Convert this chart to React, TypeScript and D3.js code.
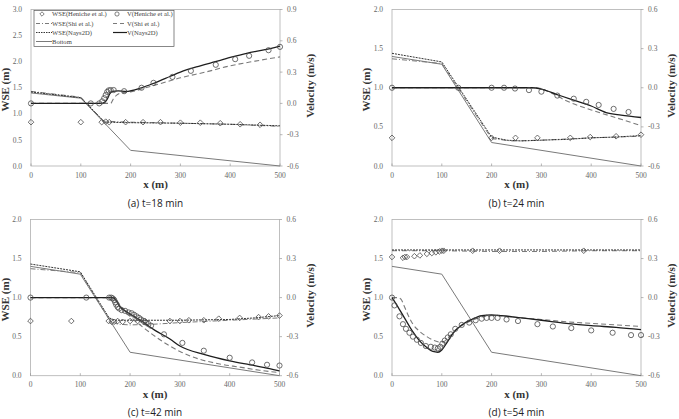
import React from 'react';
import * as d3 from 'd3';

type Pt = [number, number];

// channel bed elevation (m)
const bedProfile: Pt[] = [[0, 1.4], [100, 1.3], [200, 0.3], [500, 0]];

const xTicks = [0, 100, 200, 300, 400, 500];
const wseTicksA = [0, 0.5, 1, 1.5, 2, 2.5, 3];
const wseTicks = [0, 0.5, 1, 1.5, 2];
const velTicksA = [-0.6, -0.3, 0, 0.3, 0.6, 0.9];
const velTicks = [-0.6, -0.3, 0, 0.3, 0.6];

// (a) t = 18 min
const wseHenicheA: Pt[] = [[0, 0.84], [100, 0.84], [142, 0.84], [150, 0.85], [157, 0.84], [190, 0.84], [225, 0.84], [260, 0.84], [300, 0.83], [340, 0.83], [380, 0.82], [420, 0.8], [460, 0.79]];
const velHenicheA: Pt[] = [[0, 0], [120, 0], [137, 0], [143, 0.02], [147, 0.05], [150, 0.08], [153, 0.11], [156, 0.125], [160, 0.128], [166, 0.128], [187, 0.117], [222, 0.15], [246, 0.197], [284, 0.254], [321, 0.312], [371, 0.37], [410, 0.424], [438, 0.456], [477, 0.51], [500, 0.542]];
const wseShiA: Pt[] = [[0, 1.43], [100, 1.32], [146, 0.86], [200, 0.84], [300, 0.82], [400, 0.8], [500, 0.76]];
const velShiA: Pt[] = [[0, 0], [160, 0], [165, 0.04], [172, 0.08], [180, 0.1], [200, 0.11], [230, 0.15], [260, 0.19], [300, 0.245], [350, 0.3], [400, 0.36], [450, 0.405], [500, 0.446]];
const wseNaysA: Pt[] = [[0, 1.42], [100, 1.31], [148, 0.84], [200, 0.83], [300, 0.82], [400, 0.8], [500, 0.77]];
const velNaysA: Pt[] = [[0, 0], [140, 0], [148, 0.01], [153, 0.04], [158, 0.09], [163, 0.115], [175, 0.12], [190, 0.115], [222, 0.15], [250, 0.2], [280, 0.26], [300, 0.3], [340, 0.36], [370, 0.4], [400, 0.44], [433, 0.48], [470, 0.515], [500, 0.55]];

// (b) t = 24 min
const wseHenicheB: Pt[] = [[0, 0.36], [200, 0.36], [248, 0.36], [292, 0.36], [358, 0.36], [398, 0.37], [450, 0.38], [500, 0.4]];
const velHenicheB: Pt[] = [[0, 0], [133, 0], [200, 0], [225, 0], [247, -0.006], [275, -0.018], [300, -0.03], [332, -0.06], [365, -0.084], [390, -0.108], [415, -0.132], [445, -0.162], [475, -0.186]];
const wseShiB: Pt[] = [[0, 1.37], [100, 1.31], [200, 0.35], [240, 0.32], [300, 0.33], [400, 0.36], [500, 0.38]];
const velShiB: Pt[] = [[0, 0], [290, 0], [320, -0.04], [350, -0.1], [400, -0.17], [450, -0.23], [500, -0.29]];
const wseNaysB: Pt[] = [[0, 1.44], [100, 1.33], [200, 0.37], [230, 0.33], [260, 0.32], [300, 0.33], [350, 0.34], [400, 0.36], [450, 0.37], [500, 0.39]];
const velNaysB: Pt[] = [[0, 0], [280, 0], [300, -0.01], [330, -0.05], [360, -0.09], [400, -0.14], [430, -0.19], [460, -0.21], [500, -0.228]];

// (c) t = 42 min
const wseHenicheC: Pt[] = [[0, 0.7], [82, 0.7], [157, 0.7], [163, 0.69], [168, 0.69], [175, 0.7], [185, 0.69], [200, 0.7], [215, 0.7], [230, 0.7], [280, 0.7], [300, 0.7], [318, 0.71], [348, 0.71], [378, 0.73], [420, 0.74], [458, 0.75], [478, 0.76], [500, 0.77]];
const velHenicheC: Pt[] = [[0, 0], [112, 0], [158, 0], [162, 0], [165, -0.006], [168, -0.018], [170, -0.036], [172, -0.054], [175, -0.072], [178, -0.084], [183, -0.096], [190, -0.102], [197, -0.114], [203, -0.12], [208, -0.132], [213, -0.144], [218, -0.156], [222, -0.168], [227, -0.18], [232, -0.192], [237, -0.204], [242, -0.216], [268, -0.282], [305, -0.348], [348, -0.408], [400, -0.462], [445, -0.498], [475, -0.516], [500, -0.522]];
const wseShiC: Pt[] = [[0, 1.37], [100, 1.32], [160, 0.7], [175, 0.66], [200, 0.65], [250, 0.66], [300, 0.68], [400, 0.71], [500, 0.74]];
const velShiC: Pt[] = [[0, 0], [170, 0], [175, -0.03], [185, -0.084], [200, -0.144], [230, -0.24], [260, -0.324], [300, -0.414], [340, -0.474], [380, -0.51], [420, -0.534], [460, -0.558], [500, -0.576]];
const wseNaysC: Pt[] = [[0, 1.43], [100, 1.33], [158, 0.74], [170, 0.71], [200, 0.71], [300, 0.71], [400, 0.72], [450, 0.74], [500, 0.77]];
const velNaysC: Pt[] = [[0, 0], [165, 0], [170, -0.012], [180, -0.072], [190, -0.102], [200, -0.126], [225, -0.186], [250, -0.252], [280, -0.318], [300, -0.372], [350, -0.438], [400, -0.486], [450, -0.522], [480, -0.546], [500, -0.564]];

// (d) t = 54 min
const wseHenicheD: Pt[] = [[0, 1.52], [22, 1.51], [26, 1.52], [30, 1.52], [45, 1.53], [56, 1.54], [70, 1.56], [80, 1.57], [88, 1.58], [95, 1.59], [100, 1.6], [104, 1.6], [162, 1.6], [216, 1.6], [385, 1.6]];
const velHenicheD: Pt[] = [[0, 0], [5, -0.06], [15, -0.144], [22, -0.204], [28, -0.24], [35, -0.27], [42, -0.3], [50, -0.324], [58, -0.348], [68, -0.372], [78, -0.378], [86, -0.384], [92, -0.39], [97, -0.378], [101, -0.354], [106, -0.33], [112, -0.306], [118, -0.282], [127, -0.24], [140, -0.21], [155, -0.192], [168, -0.174], [180, -0.162], [190, -0.156], [200, -0.156], [212, -0.156], [230, -0.168], [253, -0.18], [292, -0.204], [323, -0.222], [360, -0.234], [400, -0.252], [443, -0.27], [480, -0.288], [500, -0.288]];
const wseShiD: Pt[] = [[0, 1.6], [100, 1.6], [200, 1.59], [300, 1.59], [400, 1.6], [500, 1.6]];
const velShiD: Pt[] = [[0, 0], [12, 0], [18, -0.012], [24, -0.06], [32, -0.132], [42, -0.204], [55, -0.258], [70, -0.3], [85, -0.33], [97, -0.342], [105, -0.336], [115, -0.3], [128, -0.246], [145, -0.204], [165, -0.168], [185, -0.144], [205, -0.138], [230, -0.144], [260, -0.156], [300, -0.168], [350, -0.186], [400, -0.198], [450, -0.21], [500, -0.222]];
const wseNaysD: Pt[] = [[0, 1.61], [100, 1.61], [200, 1.61], [300, 1.61], [400, 1.61], [500, 1.61]];
const velNaysD: Pt[] = [[0, 0], [10, -0.06], [25, -0.156], [40, -0.252], [55, -0.33], [70, -0.384], [82, -0.414], [92, -0.42], [100, -0.402], [110, -0.348], [122, -0.276], [140, -0.21], [160, -0.168], [180, -0.138], [200, -0.132], [220, -0.138], [260, -0.156], [300, -0.174], [350, -0.198], [400, -0.216], [450, -0.228], [500, -0.246]];

const GRAY = '#7a7a7a';
const BLACK = '#1e1e1e';
const MARK = '#4a4a4a';
const SERIF = '"Liberation Serif", "DejaVu Serif", serif';

const panels = [
  { key: 'a', caption: '(a) t=18 min', left: 31, right: 280, top: 9.5, bottom: 166, wseMax: 3, vMax: 0.9, wseTicks: wseTicksA, velTicks: velTicksA, legend: true,
    wseH: wseHenicheA, velH: velHenicheA, wseS: wseShiA, velS: velShiA, wseN: wseNaysA, velN: velNaysA },
  { key: 'b', caption: '(b) t=24 min', left: 392, right: 641, top: 9.5, bottom: 166, wseMax: 2, vMax: 0.6, wseTicks, velTicks, legend: false,
    wseH: wseHenicheB, velH: velHenicheB, wseS: wseShiB, velS: velShiB, wseN: wseNaysB, velN: velNaysB },
  { key: 'c', caption: '(c) t=42 min', left: 30.5, right: 279.5, top: 219.5, bottom: 375.7, wseMax: 2, vMax: 0.6, wseTicks, velTicks, legend: false,
    wseH: wseHenicheC, velH: velHenicheC, wseS: wseShiC, velS: velShiC, wseN: wseNaysC, velN: velNaysC },
  { key: 'd', caption: '(d) t=54 min', left: 392, right: 641, top: 219.5, bottom: 375.7, wseMax: 2, vMax: 0.6, wseTicks, velTicks, legend: false,
    wseH: wseHenicheD, velH: velHenicheD, wseS: wseShiD, velS: velShiD, wseN: wseNaysD, velN: velNaysD },
];

const diamond = (cx: number, cy: number, r = 2.8) =>
  `M${cx},${cy - r}L${cx + r},${cy}L${cx},${cy + r}L${cx - r},${cy}Z`;

const Legend = ({ x0, y0 }: { x0: number; y0: number }) => {
  const rows = [y0 + 3.5, y0 + 13, y0 + 22, y0 + 31];
  const c1 = x0 + 2, c2 = x0 + 79;
  const txt = { fontFamily: SERIF, fontSize: 6.6, fill: '#444' };
  return (
    <g>
      <rect x={x0} y={y0} width={140} height={36} fill="white" stroke="#555" strokeWidth={0.7} />
      <path d={diamond(c1 + 6, rows[0], 2.2)} fill="none" stroke={MARK} strokeWidth={0.7} />
      <text x={c1 + 16} y={rows[0] + 2.2} {...txt}>WSE(Heniche et al.)</text>
      <circle cx={c2 + 4} cy={rows[0]} r={2.1} fill="none" stroke={MARK} strokeWidth={0.7} />
      <text x={c2 + 14} y={rows[0] + 2.2} {...txt}>V(Heniche et al.)</text>

      <line x1={c1} x2={c1 + 16} y1={rows[1]} y2={rows[1]} stroke={GRAY} strokeWidth={1} strokeDasharray="4,2,1,2" />
      <text x={c1 + 16} y={rows[1] + 2.2} {...txt}>WSE(Shi et al.)</text>
      <line x1={c2} x2={c2 + 14} y1={rows[1]} y2={rows[1]} stroke={GRAY} strokeWidth={1} strokeDasharray="4,3" />
      <text x={c2 + 14} y={rows[1] + 2.2} {...txt}>V(Shi et al.)</text>

      <line x1={c1} x2={c1 + 16} y1={rows[2]} y2={rows[2]} stroke={BLACK} strokeWidth={0.9} strokeDasharray="1.5,1" />
      <text x={c1 + 16} y={rows[2] + 2.2} {...txt}>WSE(Nays2D)</text>
      <line x1={c2} x2={c2 + 14} y1={rows[2]} y2={rows[2]} stroke={BLACK} strokeWidth={1.2} />
      <text x={c2 + 14} y={rows[2] + 2.2} {...txt}>V(Nays2D)</text>

      <line x1={c1} x2={c1 + 16} y1={rows[3]} y2={rows[3]} stroke={GRAY} strokeWidth={1} />
      <text x={c1 + 16} y={rows[3] + 2.2} {...txt}>Bottom</text>
    </g>
  );
};

const Panel = ({ p }: { p: typeof panels[number] }) => {
  const x = d3.scaleLinear().domain([0, 500]).range([p.left, p.right]);
  const yw = d3.scaleLinear().domain([0, p.wseMax]).range([p.bottom, p.top]);
  const yv = d3.scaleLinear().domain([-0.6, p.vMax]).range([p.bottom, p.top]);
  const wLine = d3.line<Pt>().x(d => x(d[0])).y(d => yw(d[1]));
  const vLine = d3.line<Pt>().x(d => x(d[0])).y(d => yv(d[1])).curve(d3.curveMonotoneX);
  const cx = (p.left + p.right) / 2;
  const cy = (p.top + p.bottom) / 2;
  const tickTxt = { fontFamily: SERIF, fontSize: 7.5, fill: '#666' };
  const title = { fontFamily: SERIF, fontSize: 11, fontWeight: 'bold' as const, fill: '#333' };

  return (
    <g>
      <rect x={p.left} y={p.top} width={p.right - p.left} height={p.bottom - p.top} fill="none" stroke="#b0b0b0" strokeWidth={0.8} />
      {xTicks.map(t => (
        <g key={'x' + t}>
          <line x1={x(t)} x2={x(t)} y1={p.bottom} y2={p.bottom - 2.5} stroke="#999" strokeWidth={0.7} />
          <text x={x(t)} y={p.bottom + 11.5} textAnchor="middle" {...tickTxt}>{t}</text>
        </g>
      ))}
      {p.wseTicks.map(t => (
        <text key={'w' + t} x={p.left - 9} y={yw(t) + 2.6} textAnchor="end" {...tickTxt}>{t.toFixed(1)}</text>
      ))}
      {p.velTicks.map(t => (
        <g key={'v' + t}>
          <line x1={p.right} x2={p.right + 2.5} y1={yv(t)} y2={yv(t)} stroke="#999" strokeWidth={0.7} />
          <text x={p.right + 7} y={yv(t) + 2.6} {...tickTxt}>{t.toFixed(1)}</text>
        </g>
      ))}
      <text x={cx} y={p.bottom + 22} textAnchor="middle" {...title}>x (m)</text>
      <text transform={`translate(${p.left - 22},${cy + 2}) rotate(-90)`} textAnchor="middle" {...title}>WSE (m)</text>
      <text transform={`translate(${p.right + 34},${cy - 2}) rotate(-90)`} textAnchor="middle" {...title}>Velocity (m/s)</text>
      <text x={cx} y={p.bottom + 40.5} textAnchor="middle" fontFamily='"Open Sans", sans-serif' fontSize={10} fill="#222">{p.caption}</text>

      <path d={wLine(bedProfile) ?? ''} fill="none" stroke={GRAY} strokeWidth={1} />
      <path d={wLine(p.wseS) ?? ''} fill="none" stroke={GRAY} strokeWidth={1} strokeDasharray="5,2,1,2" />
      <path d={wLine(p.wseN) ?? ''} fill="none" stroke={BLACK} strokeWidth={0.9} strokeDasharray="2,1" />
      <path d={vLine(p.velS) ?? ''} fill="none" stroke={GRAY} strokeWidth={1.1} strokeDasharray="5,3" />
      <path d={vLine(p.velN) ?? ''} fill="none" stroke={BLACK} strokeWidth={1.3} />
      {p.wseH.map((d, i) => (
        <path key={'dh' + i} d={diamond(x(d[0]), yw(d[1]))} fill="none" stroke={MARK} strokeWidth={0.8} />
      ))}
      {p.velH.map((d, i) => (
        <circle key={'ch' + i} cx={x(d[0])} cy={yv(d[1])} r={2.6} fill="none" stroke={MARK} strokeWidth={0.8} />
      ))}
      {p.legend && <Legend x0={34} y0={10.5} />}
    </g>
  );
};

export default function App() {
  return (
    <svg width={679} height={419} style={{ position: 'absolute', left: 0, top: 0, background: 'white' }}>
      <rect width={679} height={419} fill="white" />
      {panels.map(p => <Panel key={p.key} p={p} />)}
    </svg>
  );
}
